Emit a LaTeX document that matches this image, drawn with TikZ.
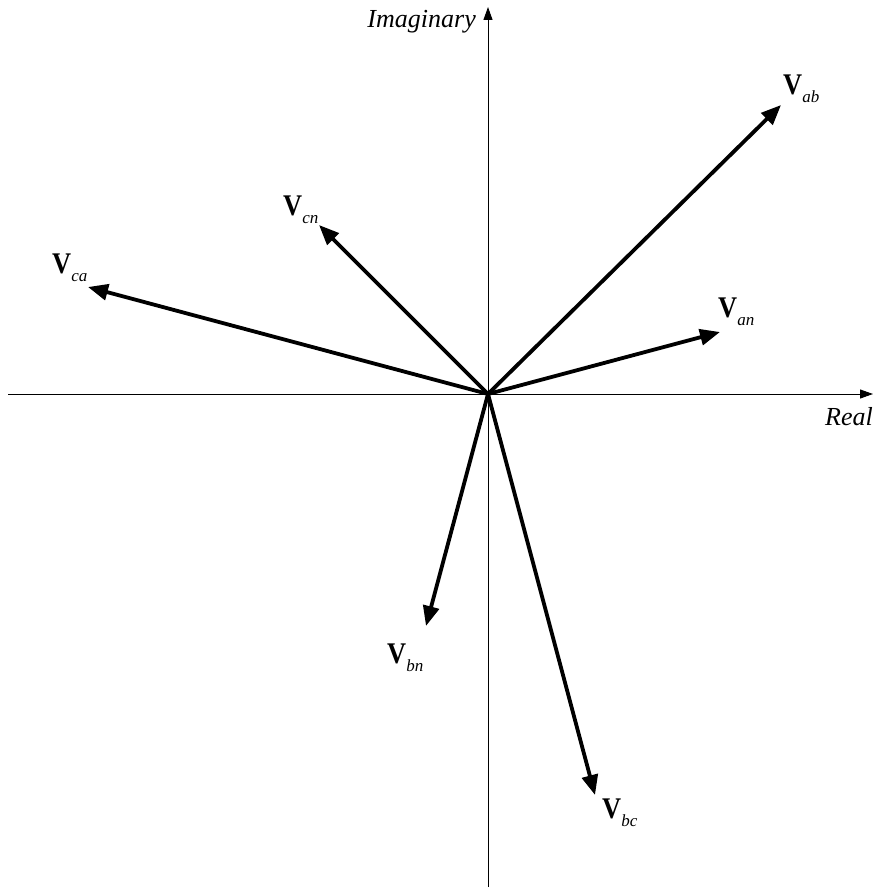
\documentclass[tikz,border=0pt]{standalone}
\usepackage{fontspec}
\setmainfont{Liberation Serif}
\usetikzlibrary{arrows.meta}
\tikzset{
  axis/.style={line width=1pt, -{Triangle[length=13pt,width=9pt]}},
  vec/.style={line width=3.8pt, -{Triangle[length=20pt,width=16pt]}},
  axlabel/.style={inner sep=0pt, font=\fontsize{26}{26}\selectfont\itshape},
  vlabel/.style={inner sep=0pt, anchor=base west},
}
\newcommand{\vlab}[1]{\scalebox{0.88}[1]{\fontsize{30}{30}\selectfont\bfseries V}\raisebox{-8pt}{\fontsize{17}{17}\selectfont\itshape #1}}
\begin{document}
\begin{tikzpicture}[x=1pt,y=-1pt]
  \useasboundingbox (0,0) rectangle (878,888);
  % axes
  \coordinate (xl) at (8,394);
  \coordinate (xr) at (873,394);
  \coordinate (yb) at (488,887);
  \coordinate (yt) at (488,7);
  \draw[axis] (xl) -- (xr);
  \draw[axis] (yb) -- (yt);
  \node[axlabel, anchor=base east] (re) at (873,425) {Real};
  \node[axlabel, anchor=base east] (im) at (476,28) {Imaginary};
  % phasors
  \coordinate (O) at (488,394);
  \coordinate (tab) at (781,105);
  \coordinate (tan) at (720,332);
  \coordinate (tcn) at (319,225);
  \coordinate (tca) at (88,287);
  \coordinate (tbn) at (426,626);
  \coordinate (tbc) at (595,795);
  \draw[vec] (O) -- (tab);
  \draw[vec] (O) -- (tan);
  \draw[vec] (O) -- (tcn);
  \draw[vec] (O) -- (tca);
  \draw[vec] (O) -- (tbn);
  \draw[vec] (O) -- (tbc);
  % labels
  \node[vlabel] (lab) at (783,95) {\vlab{ab}};
  \node[vlabel] (lan) at (718,317) {\vlab{an}};
  \node[vlabel] (lcn) at (283,215) {\vlab{cn}};
  \node[vlabel] (lca) at (52,273) {\vlab{ca}};
  \node[vlabel] (lbn) at (387,663) {\vlab{bn}};
  \node[vlabel] (lbc) at (602,818) {\vlab{bc}};
\end{tikzpicture}
\end{document}
